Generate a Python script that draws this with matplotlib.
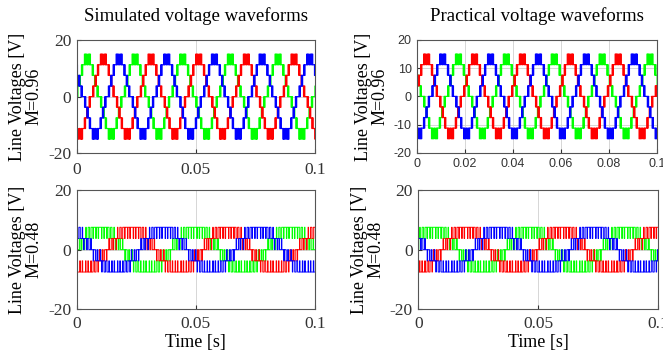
import numpy as np
import matplotlib.pyplot as plt

plt.rcParams['font.family'] = ['Liberation Serif', 'DejaVu Serif']

# one quarter period of a line voltage, in inverter steps
quarter_m096 = [0, 0, 1, 0, 1, 1, 2, 1, 2, 2, 3, 2, 3, 3, 3, 4, 3, 4, 4, 3]
quarter_m048 = [0, 0, 1, 0, 0, 0,
                0, 1, 1, 1, 0, 0,
                1, 1, 1, 1, 1, 0,
                1, 1, 2, 1, 1, 1,
                1, 2, 2, 2, 1, 1,
                1, 2, 2, 2, 2, 1,
                2, 2, 2, 2, 2, 1,
                2, 2, 2, 2, 1, 2,
                2, 2]
step_volts = 3.75
period_m096 = 0.02   # 50 Hz
period_m048 = 0.04   # 25 Hz

# rising zero crossing of each phase [green, red, blue] per panel
zero_sim_096 = [-0.0005, 0.0062, 0.0128]
zero_prac_096 = [-0.0078, -0.0011, 0.0056]
zero_sim_048 = [-0.0002, 0.0131, 0.0265]
zero_prac_048 = [-0.0034, 0.0099, 0.0233]

phase_colors = ['#00ff00', '#ff0000', '#0000ff']
t_end = 0.1


def one_period(quarter):
    half = quarter + quarter[::-1]
    return np.array(half + [-v for v in half]) * step_volts


def draw_phases(ax, quarter, period, zeros, lw):
    wave = one_period(quarter)
    dt = period / len(wave)
    reps = int(t_end / period) + 3
    vals = np.tile(wave, reps)
    for z, c in zip(zeros, phase_colors):
        start = z - np.ceil((z + 1e-9) / period) * period
        if start > 0:
            start -= period
        t = start + np.arange(len(vals)) * dt
        ax.step(t, vals, where='post', color=c, lw=lw)


def style_axes(ax, xt, yt, sans=False, xpad=5):
    ax.set_xlim(0, t_end)
    ax.set_ylim(-20, 20)
    ax.set_xticks(xt)
    ax.set_yticks(yt)
    ax.set_xticklabels([('%g' % v) for v in xt])
    ax.set_yticklabels([('%g' % v) for v in yt])
    ax.tick_params(direction='in', length=3, colors='#333333', pad=4,
                   labelsize=9 if sans else 12.5)
    ax.tick_params(axis='x', pad=xpad)
    if sans:
        for lab in ax.get_xticklabels() + ax.get_yticklabels():
            lab.set_family('Liberation Sans')
    ax.grid(True, color='#d0d0d0', lw=0.6)
    ax.set_axisbelow(True)
    for s in ax.spines.values():
        s.set_color('#555555')
        s.set_linewidth(0.8)


fig = plt.figure(figsize=(6.63, 3.57), dpi=100)
ax_tl = fig.add_axes([0.1157, 0.5706, 0.3594, 0.3174])
ax_tr = fig.add_axes([0.6294, 0.5720, 0.3611, 0.3160])
ax_bl = fig.add_axes([0.1157, 0.1336, 0.3594, 0.3342])
ax_br = fig.add_axes([0.6309, 0.1336, 0.3620, 0.3342])

draw_phases(ax_tl, quarter_m096, period_m096, zero_sim_096, 0.9)
draw_phases(ax_tr, quarter_m096, period_m096, zero_prac_096, 0.9)
draw_phases(ax_bl, quarter_m048, period_m048, zero_sim_048, 0.7)
draw_phases(ax_br, quarter_m048, period_m048, zero_prac_048, 0.7)

style_axes(ax_tl, [0, 0.05, 0.1], [-20, 0, 20], xpad=6)
style_axes(ax_tr, [0, 0.02, 0.04, 0.06, 0.08, 0.1], [-20, -10, 0, 10, 20], sans=True, xpad=4)
style_axes(ax_bl, [0, 0.05, 0.1], [-20, 0, 20], xpad=5)
style_axes(ax_br, [0, 0.05, 0.1], [-20, 0, 20], xpad=5)

ax_tl.set_title('Simulated voltage waveforms', fontsize=13.5, pad=14)
ax_tr.set_title('Practical voltage waveforms', fontsize=13.5, pad=14)
for ax in (ax_tl, ax_tr):
    ax.set_ylabel('Line Voltages [V]\nM=0.96', fontsize=13, linespacing=0.95)
for ax in (ax_bl, ax_br):
    ax.set_ylabel('Line Voltages [V]\nM=0.48', fontsize=13, linespacing=0.95)
    ax.set_xlabel('Time [s]', fontsize=13, labelpad=1)

fig.savefig('out.png', dpi=100)
